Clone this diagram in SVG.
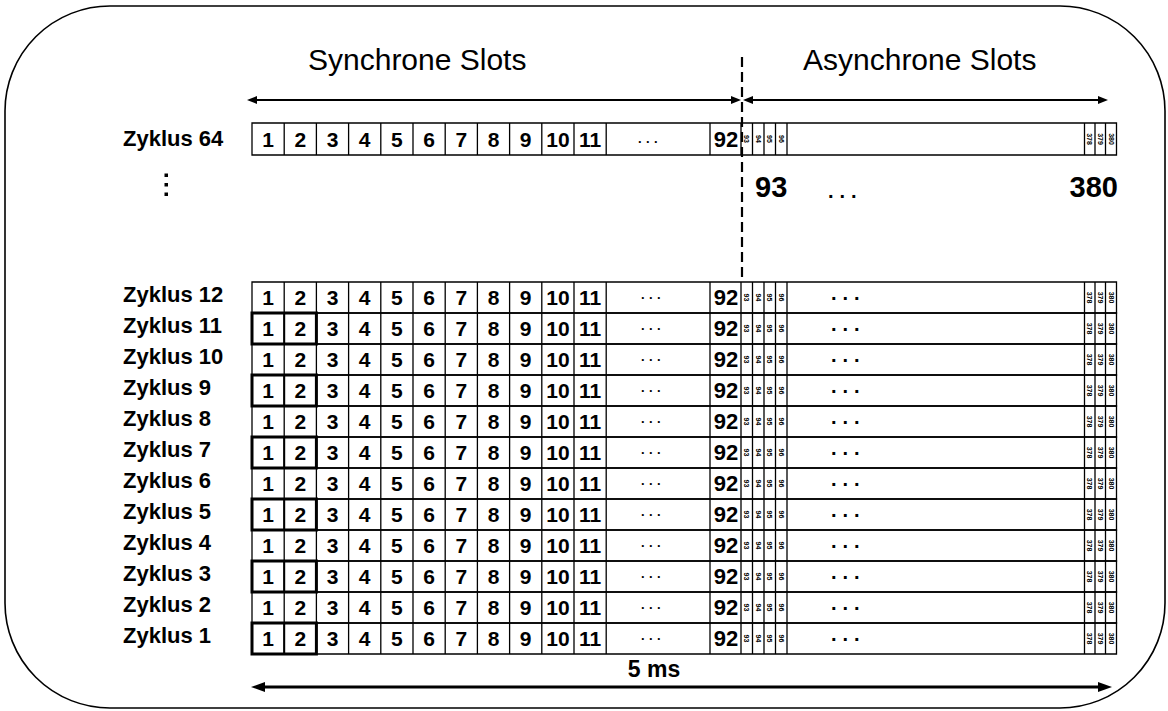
<svg xmlns="http://www.w3.org/2000/svg" xmlns:xlink="http://www.w3.org/1999/xlink" width="1168" height="711" viewBox="0 0 1168 711">
<style>
.ln{fill:none;stroke:#000;stroke-width:1.3}
.tk{fill:none;stroke:#000;stroke-width:3}
.tk2{fill:none;stroke:#000;stroke-width:2}
.arr{fill:none;stroke:#000;stroke-width:2}
.arrb{fill:none;stroke:#000;stroke-width:3.2}
.dash{fill:none;stroke:#000;stroke-width:2.2;stroke-dasharray:10 5}
text{font-family:"Liberation Sans",Arial,Helvetica,sans-serif;fill:#000}
.lbl{font-weight:bold;font-size:22px}
.d{font-weight:bold;font-size:21px;text-anchor:middle}
.d92{font-weight:bold;font-size:22px;text-anchor:middle}
.s{font-weight:bold;font-size:7px;text-anchor:middle;dominant-baseline:central}
.sd{font-weight:bold;font-size:13px;letter-spacing:4.4px}
.ad{font-weight:bold;font-size:20px;letter-spacing:6px}
.title{font-size:30px}
.big{font-weight:bold;font-size:29px}
.ms{font-weight:bold;font-size:23px;text-anchor:middle}
</style>
<defs>
<marker id="ah" viewBox="0 0 10 8" refX="4" refY="4" markerWidth="10" markerHeight="8" markerUnits="userSpaceOnUse" orient="auto-start-reverse"><path d="M0,0L10,4L0,8z" fill="#000"/></marker>
<marker id="ahb" viewBox="0 0 14 10" refX="6" refY="5" markerWidth="14" markerHeight="10" markerUnits="userSpaceOnUse" orient="auto-start-reverse"><path d="M0,0L14,5L0,10z" fill="#000"/></marker>
<path id="grid" class="ln" d="M252 0H1116.5V31H252ZM284.2 0v31M316.4 0v31M348.6 0v31M380.8 0v31M413 0v31M445.2 0v31M477.4 0v31M509.6 0v31M541.8 0v31M574 0v31M606.2 0v31M710 0v31M741 0v31M752.5 0v31M764 0v31M775.5 0v31M787 0v31M1084.5 0v31M1095 0v31M1105.5 0v31"/>
<path id="grid32" class="ln" d="M252 0H1116.5V32H252ZM284.2 0v32M316.4 0v32M348.6 0v32M380.8 0v32M413 0v32M445.2 0v32M477.4 0v32M509.6 0v32M541.8 0v32M574 0v32M606.2 0v32M710 0v32M741 0v32M752.5 0v32M764 0v32M775.5 0v32M787 0v32M1084.5 0v32M1095 0v32M1105.5 0v32"/>
<g id="tb"><rect class="tk" x="252" y="0" width="64.4" height="31"/><path class="tk2" d="M284.2 0v31"/></g>
</defs>

<rect id="frame" x="5" y="6" width="1160" height="702" rx="105" ry="105" fill="#fff" stroke="#000" stroke-width="1.6"/>

<g id="headers">
<text class="title" x="308" y="70">Synchrone Slots</text>
<text class="title" x="803" y="70">Asynchrone Slots</text>
<text class="big" x="755" y="197">93</text>
<text class="ad" x="828" y="198">...</text>
<text class="big" x="1118" y="197" text-anchor="end">380</text>
<text class="ms" x="654" y="677">5 ms</text>
<rect x="164.5" y="173.5" width="3.5" height="3.5"/>
<rect x="164.5" y="183" width="3.5" height="3.5"/>
<rect x="164.5" y="192.5" width="3.5" height="3.5"/>
</g>

<g id="connectors">
<path class="arr" d="M253 100H735" marker-start="url(#ah)" marker-end="url(#ah)"/>
<path class="arr" d="M749 100H1102" marker-start="url(#ah)" marker-end="url(#ah)"/>
<path class="arrb" d="M259 687H1104" marker-start="url(#ahb)" marker-end="url(#ahb)"/>
<path class="dash" d="M742 57V282"/>
</g>

<g id="zyklus-64" transform="translate(0 123)">
<use href="#grid32"/>
<text class="lbl" x="123" y="23">Zyklus 64</text>
<g transform="translate(0 23.5)">
<text class="d" x="268.1">1</text><text class="d" x="300.3">2</text><text class="d" x="332.5">3</text><text class="d" x="364.7">4</text><text class="d" x="396.9">5</text><text class="d" x="429.1">6</text><text class="d" x="461.3">7</text><text class="d" x="493.5">8</text><text class="d" x="525.7">9</text><text class="d" x="557.9">10</text><text class="d" x="590.1">11</text><text class="d92" x="726">92</text>
</g>
<text class="sd" x="638" y="20">...</text>
<g transform="translate(0 16)">
<text class="s" transform="translate(746.8 0) rotate(90)">93</text><text class="s" transform="translate(758.3 0) rotate(90)">94</text><text class="s" transform="translate(769.8 0) rotate(90)">95</text><text class="s" transform="translate(781.3 0) rotate(90)">96</text><text class="s" transform="translate(1089.8 0) rotate(90)">378</text><text class="s" transform="translate(1100.3 0) rotate(90)">379</text><text class="s" transform="translate(1111 0) rotate(90)">380</text>
</g>
</g>

<g id="zyklus-12" transform="translate(0 282)">
<use href="#grid"/>
<text class="lbl" x="123" y="19.5">Zyklus 12</text>
<g transform="translate(0 23)"><text class="d" x="268.1">1</text><text class="d" x="300.3">2</text><text class="d" x="332.5">3</text><text class="d" x="364.7">4</text><text class="d" x="396.9">5</text><text class="d" x="429.1">6</text><text class="d" x="461.3">7</text><text class="d" x="493.5">8</text><text class="d" x="525.7">9</text><text class="d" x="557.9">10</text><text class="d" x="590.1">11</text><text class="d92" x="726">92</text></g>
<text class="sd" x="641" y="17">...</text><text class="ad" x="831" y="17.5">...</text>
<g transform="translate(0 15.5)"><text class="s" transform="translate(746.8 0) rotate(90)">93</text><text class="s" transform="translate(758.3 0) rotate(90)">94</text><text class="s" transform="translate(769.8 0) rotate(90)">95</text><text class="s" transform="translate(781.3 0) rotate(90)">96</text><text class="s" transform="translate(1089.8 0) rotate(90)">378</text><text class="s" transform="translate(1100.3 0) rotate(90)">379</text><text class="s" transform="translate(1111 0) rotate(90)">380</text></g>
</g>

<g id="zyklus-11" transform="translate(0 313)">
<use href="#grid"/><use href="#tb"/>
<text class="lbl" x="123" y="19.5">Zyklus 11</text>
<g transform="translate(0 23)"><text class="d" x="268.1">1</text><text class="d" x="300.3">2</text><text class="d" x="332.5">3</text><text class="d" x="364.7">4</text><text class="d" x="396.9">5</text><text class="d" x="429.1">6</text><text class="d" x="461.3">7</text><text class="d" x="493.5">8</text><text class="d" x="525.7">9</text><text class="d" x="557.9">10</text><text class="d" x="590.1">11</text><text class="d92" x="726">92</text></g>
<text class="sd" x="641" y="17">...</text><text class="ad" x="831" y="17.5">...</text>
<g transform="translate(0 15.5)"><text class="s" transform="translate(746.8 0) rotate(90)">93</text><text class="s" transform="translate(758.3 0) rotate(90)">94</text><text class="s" transform="translate(769.8 0) rotate(90)">95</text><text class="s" transform="translate(781.3 0) rotate(90)">96</text><text class="s" transform="translate(1089.8 0) rotate(90)">378</text><text class="s" transform="translate(1100.3 0) rotate(90)">379</text><text class="s" transform="translate(1111 0) rotate(90)">380</text></g>
</g>

<g id="zyklus-10" transform="translate(0 344)">
<use href="#grid"/>
<text class="lbl" x="123" y="19.5">Zyklus 10</text>
<g transform="translate(0 23)"><text class="d" x="268.1">1</text><text class="d" x="300.3">2</text><text class="d" x="332.5">3</text><text class="d" x="364.7">4</text><text class="d" x="396.9">5</text><text class="d" x="429.1">6</text><text class="d" x="461.3">7</text><text class="d" x="493.5">8</text><text class="d" x="525.7">9</text><text class="d" x="557.9">10</text><text class="d" x="590.1">11</text><text class="d92" x="726">92</text></g>
<text class="sd" x="641" y="17">...</text><text class="ad" x="831" y="17.5">...</text>
<g transform="translate(0 15.5)"><text class="s" transform="translate(746.8 0) rotate(90)">93</text><text class="s" transform="translate(758.3 0) rotate(90)">94</text><text class="s" transform="translate(769.8 0) rotate(90)">95</text><text class="s" transform="translate(781.3 0) rotate(90)">96</text><text class="s" transform="translate(1089.8 0) rotate(90)">378</text><text class="s" transform="translate(1100.3 0) rotate(90)">379</text><text class="s" transform="translate(1111 0) rotate(90)">380</text></g>
</g>

<g id="zyklus-9" transform="translate(0 375)">
<use href="#grid"/><use href="#tb"/>
<text class="lbl" x="123" y="19.5">Zyklus 9</text>
<g transform="translate(0 23)"><text class="d" x="268.1">1</text><text class="d" x="300.3">2</text><text class="d" x="332.5">3</text><text class="d" x="364.7">4</text><text class="d" x="396.9">5</text><text class="d" x="429.1">6</text><text class="d" x="461.3">7</text><text class="d" x="493.5">8</text><text class="d" x="525.7">9</text><text class="d" x="557.9">10</text><text class="d" x="590.1">11</text><text class="d92" x="726">92</text></g>
<text class="sd" x="641" y="17">...</text><text class="ad" x="831" y="17.5">...</text>
<g transform="translate(0 15.5)"><text class="s" transform="translate(746.8 0) rotate(90)">93</text><text class="s" transform="translate(758.3 0) rotate(90)">94</text><text class="s" transform="translate(769.8 0) rotate(90)">95</text><text class="s" transform="translate(781.3 0) rotate(90)">96</text><text class="s" transform="translate(1089.8 0) rotate(90)">378</text><text class="s" transform="translate(1100.3 0) rotate(90)">379</text><text class="s" transform="translate(1111 0) rotate(90)">380</text></g>
</g>

<g id="zyklus-8" transform="translate(0 406)">
<use href="#grid"/>
<text class="lbl" x="123" y="19.5">Zyklus 8</text>
<g transform="translate(0 23)"><text class="d" x="268.1">1</text><text class="d" x="300.3">2</text><text class="d" x="332.5">3</text><text class="d" x="364.7">4</text><text class="d" x="396.9">5</text><text class="d" x="429.1">6</text><text class="d" x="461.3">7</text><text class="d" x="493.5">8</text><text class="d" x="525.7">9</text><text class="d" x="557.9">10</text><text class="d" x="590.1">11</text><text class="d92" x="726">92</text></g>
<text class="sd" x="641" y="17">...</text><text class="ad" x="831" y="17.5">...</text>
<g transform="translate(0 15.5)"><text class="s" transform="translate(746.8 0) rotate(90)">93</text><text class="s" transform="translate(758.3 0) rotate(90)">94</text><text class="s" transform="translate(769.8 0) rotate(90)">95</text><text class="s" transform="translate(781.3 0) rotate(90)">96</text><text class="s" transform="translate(1089.8 0) rotate(90)">378</text><text class="s" transform="translate(1100.3 0) rotate(90)">379</text><text class="s" transform="translate(1111 0) rotate(90)">380</text></g>
</g>

<g id="zyklus-7" transform="translate(0 437)">
<use href="#grid"/><use href="#tb"/>
<text class="lbl" x="123" y="19.5">Zyklus 7</text>
<g transform="translate(0 23)"><text class="d" x="268.1">1</text><text class="d" x="300.3">2</text><text class="d" x="332.5">3</text><text class="d" x="364.7">4</text><text class="d" x="396.9">5</text><text class="d" x="429.1">6</text><text class="d" x="461.3">7</text><text class="d" x="493.5">8</text><text class="d" x="525.7">9</text><text class="d" x="557.9">10</text><text class="d" x="590.1">11</text><text class="d92" x="726">92</text></g>
<text class="sd" x="641" y="17">...</text><text class="ad" x="831" y="17.5">...</text>
<g transform="translate(0 15.5)"><text class="s" transform="translate(746.8 0) rotate(90)">93</text><text class="s" transform="translate(758.3 0) rotate(90)">94</text><text class="s" transform="translate(769.8 0) rotate(90)">95</text><text class="s" transform="translate(781.3 0) rotate(90)">96</text><text class="s" transform="translate(1089.8 0) rotate(90)">378</text><text class="s" transform="translate(1100.3 0) rotate(90)">379</text><text class="s" transform="translate(1111 0) rotate(90)">380</text></g>
</g>

<g id="zyklus-6" transform="translate(0 468)">
<use href="#grid"/>
<text class="lbl" x="123" y="19.5">Zyklus 6</text>
<g transform="translate(0 23)"><text class="d" x="268.1">1</text><text class="d" x="300.3">2</text><text class="d" x="332.5">3</text><text class="d" x="364.7">4</text><text class="d" x="396.9">5</text><text class="d" x="429.1">6</text><text class="d" x="461.3">7</text><text class="d" x="493.5">8</text><text class="d" x="525.7">9</text><text class="d" x="557.9">10</text><text class="d" x="590.1">11</text><text class="d92" x="726">92</text></g>
<text class="sd" x="641" y="17">...</text><text class="ad" x="831" y="17.5">...</text>
<g transform="translate(0 15.5)"><text class="s" transform="translate(746.8 0) rotate(90)">93</text><text class="s" transform="translate(758.3 0) rotate(90)">94</text><text class="s" transform="translate(769.8 0) rotate(90)">95</text><text class="s" transform="translate(781.3 0) rotate(90)">96</text><text class="s" transform="translate(1089.8 0) rotate(90)">378</text><text class="s" transform="translate(1100.3 0) rotate(90)">379</text><text class="s" transform="translate(1111 0) rotate(90)">380</text></g>
</g>

<g id="zyklus-5" transform="translate(0 499)">
<use href="#grid"/><use href="#tb"/>
<text class="lbl" x="123" y="19.5">Zyklus 5</text>
<g transform="translate(0 23)"><text class="d" x="268.1">1</text><text class="d" x="300.3">2</text><text class="d" x="332.5">3</text><text class="d" x="364.7">4</text><text class="d" x="396.9">5</text><text class="d" x="429.1">6</text><text class="d" x="461.3">7</text><text class="d" x="493.5">8</text><text class="d" x="525.7">9</text><text class="d" x="557.9">10</text><text class="d" x="590.1">11</text><text class="d92" x="726">92</text></g>
<text class="sd" x="641" y="17">...</text><text class="ad" x="831" y="17.5">...</text>
<g transform="translate(0 15.5)"><text class="s" transform="translate(746.8 0) rotate(90)">93</text><text class="s" transform="translate(758.3 0) rotate(90)">94</text><text class="s" transform="translate(769.8 0) rotate(90)">95</text><text class="s" transform="translate(781.3 0) rotate(90)">96</text><text class="s" transform="translate(1089.8 0) rotate(90)">378</text><text class="s" transform="translate(1100.3 0) rotate(90)">379</text><text class="s" transform="translate(1111 0) rotate(90)">380</text></g>
</g>

<g id="zyklus-4" transform="translate(0 530)">
<use href="#grid"/>
<text class="lbl" x="123" y="19.5">Zyklus 4</text>
<g transform="translate(0 23)"><text class="d" x="268.1">1</text><text class="d" x="300.3">2</text><text class="d" x="332.5">3</text><text class="d" x="364.7">4</text><text class="d" x="396.9">5</text><text class="d" x="429.1">6</text><text class="d" x="461.3">7</text><text class="d" x="493.5">8</text><text class="d" x="525.7">9</text><text class="d" x="557.9">10</text><text class="d" x="590.1">11</text><text class="d92" x="726">92</text></g>
<text class="sd" x="641" y="17">...</text><text class="ad" x="831" y="17.5">...</text>
<g transform="translate(0 15.5)"><text class="s" transform="translate(746.8 0) rotate(90)">93</text><text class="s" transform="translate(758.3 0) rotate(90)">94</text><text class="s" transform="translate(769.8 0) rotate(90)">95</text><text class="s" transform="translate(781.3 0) rotate(90)">96</text><text class="s" transform="translate(1089.8 0) rotate(90)">378</text><text class="s" transform="translate(1100.3 0) rotate(90)">379</text><text class="s" transform="translate(1111 0) rotate(90)">380</text></g>
</g>

<g id="zyklus-3" transform="translate(0 561)">
<use href="#grid"/><use href="#tb"/>
<text class="lbl" x="123" y="19.5">Zyklus 3</text>
<g transform="translate(0 23)"><text class="d" x="268.1">1</text><text class="d" x="300.3">2</text><text class="d" x="332.5">3</text><text class="d" x="364.7">4</text><text class="d" x="396.9">5</text><text class="d" x="429.1">6</text><text class="d" x="461.3">7</text><text class="d" x="493.5">8</text><text class="d" x="525.7">9</text><text class="d" x="557.9">10</text><text class="d" x="590.1">11</text><text class="d92" x="726">92</text></g>
<text class="sd" x="641" y="17">...</text><text class="ad" x="831" y="17.5">...</text>
<g transform="translate(0 15.5)"><text class="s" transform="translate(746.8 0) rotate(90)">93</text><text class="s" transform="translate(758.3 0) rotate(90)">94</text><text class="s" transform="translate(769.8 0) rotate(90)">95</text><text class="s" transform="translate(781.3 0) rotate(90)">96</text><text class="s" transform="translate(1089.8 0) rotate(90)">378</text><text class="s" transform="translate(1100.3 0) rotate(90)">379</text><text class="s" transform="translate(1111 0) rotate(90)">380</text></g>
</g>

<g id="zyklus-2" transform="translate(0 592)">
<use href="#grid"/>
<text class="lbl" x="123" y="19.5">Zyklus 2</text>
<g transform="translate(0 23)"><text class="d" x="268.1">1</text><text class="d" x="300.3">2</text><text class="d" x="332.5">3</text><text class="d" x="364.7">4</text><text class="d" x="396.9">5</text><text class="d" x="429.1">6</text><text class="d" x="461.3">7</text><text class="d" x="493.5">8</text><text class="d" x="525.7">9</text><text class="d" x="557.9">10</text><text class="d" x="590.1">11</text><text class="d92" x="726">92</text></g>
<text class="sd" x="641" y="17">...</text><text class="ad" x="831" y="17.5">...</text>
<g transform="translate(0 15.5)"><text class="s" transform="translate(746.8 0) rotate(90)">93</text><text class="s" transform="translate(758.3 0) rotate(90)">94</text><text class="s" transform="translate(769.8 0) rotate(90)">95</text><text class="s" transform="translate(781.3 0) rotate(90)">96</text><text class="s" transform="translate(1089.8 0) rotate(90)">378</text><text class="s" transform="translate(1100.3 0) rotate(90)">379</text><text class="s" transform="translate(1111 0) rotate(90)">380</text></g>
</g>

<g id="zyklus-1" transform="translate(0 623)">
<use href="#grid"/><use href="#tb"/>
<text class="lbl" x="123" y="19.5">Zyklus 1</text>
<g transform="translate(0 23)"><text class="d" x="268.1">1</text><text class="d" x="300.3">2</text><text class="d" x="332.5">3</text><text class="d" x="364.7">4</text><text class="d" x="396.9">5</text><text class="d" x="429.1">6</text><text class="d" x="461.3">7</text><text class="d" x="493.5">8</text><text class="d" x="525.7">9</text><text class="d" x="557.9">10</text><text class="d" x="590.1">11</text><text class="d92" x="726">92</text></g>
<text class="sd" x="641" y="17">...</text><text class="ad" x="831" y="17.5">...</text>
<g transform="translate(0 15.5)"><text class="s" transform="translate(746.8 0) rotate(90)">93</text><text class="s" transform="translate(758.3 0) rotate(90)">94</text><text class="s" transform="translate(769.8 0) rotate(90)">95</text><text class="s" transform="translate(781.3 0) rotate(90)">96</text><text class="s" transform="translate(1089.8 0) rotate(90)">378</text><text class="s" transform="translate(1100.3 0) rotate(90)">379</text><text class="s" transform="translate(1111 0) rotate(90)">380</text></g>
</g>
</svg>
